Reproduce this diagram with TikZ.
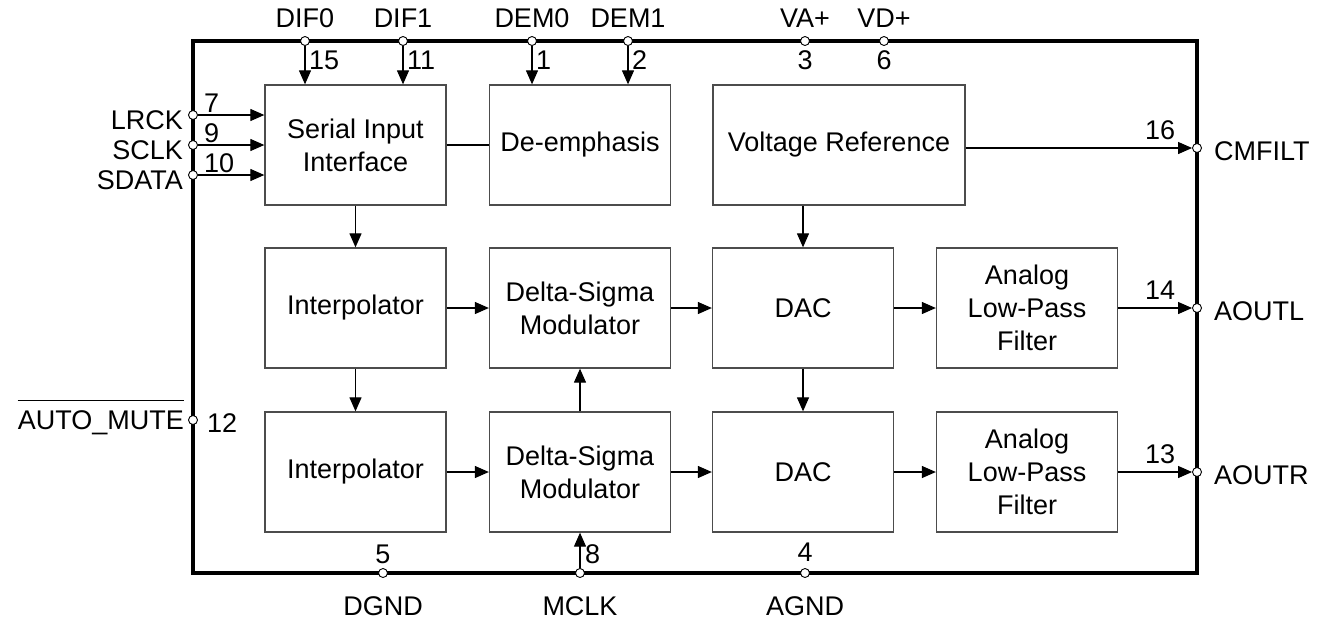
\documentclass[tikz,border=0pt]{standalone}
\usepackage{fontspec}
\setmainfont{Liberation Sans}
\usetikzlibrary{arrows.meta,calc}
\tikzset{
  blk/.style={draw=black!70, line width=1.3pt, minimum width=181pt,
    minimum height=120pt, align=center, inner sep=0pt},
  pin/.style={circle, draw, fill=white, line width=0.9pt, inner sep=0pt,
    minimum size=9pt},
  lbl/.style={inner sep=0pt},
  wire/.style={line width=1.2pt},
  sig/.style={wire, -{Triangle[length=14pt,width=12pt]}},
}
\begin{document}
\begin{tikzpicture}[x=1pt, y=-1pt, font=\fontsize{27}{33}\selectfont] % {{{
\useasboundingbox (0,0) rectangle (1324,619);
% chip outline
\draw[line width=4pt] (193,41) rectangle (1197,573);
% blocks {{{
\node[blk] (sii) at (355.5,145) {Serial Input\\Interface};
\node[blk] (dem) at (580,145) {De-emphasis};
\node[blk, minimum width=252pt] (vref) at (839,145) {Voltage Reference};
\node[blk] (int1) at (355.5,308) {Interpolator};
\node[blk] (dsm1) at (580,308) {Delta-Sigma\\Modulator};
\node[blk] (dac1) at (803,308) {DAC};
\node[blk] (lpf1) at (1027,308) {Analog\\Low-Pass\\Filter};
\node[blk] (int2) at (355.5,472) {Interpolator};
\node[blk] (dsm2) at (580,472) {Delta-Sigma\\Modulator};
\node[blk] (dac2) at (803,472) {DAC};
\node[blk] (lpf2) at (1027,472) {Analog\\Low-Pass\\Filter};
% }}}
% top pins {{{
\foreach \nm/\x/\txt/\num in {dif0/305/DIF0/15, dif1/403/DIF1/11, dem0/532/DEM0/1, dem1/628/DEM1/2} {
  \node[pin] (p\nm) at (\x,41) {};
  \node[lbl] (t\nm) at (\x,18) {\txt};
  \node[lbl, anchor=west] (n\nm) at (\x+4,60) {\num};
}
\foreach \nm/\x/\txt/\num in {va/805/VA+/3, vd/884/VD+/6} {
  \node[pin] (p\nm) at (\x,41) {};
  \node[lbl] (t\nm) at (\x,18) {\txt};
  \node[lbl] (n\nm) at (\x,60) {\num};
}
\draw[sig] (pdif0) -- (pdif0 |- sii.north);
\draw[sig] (pdif1) -- (pdif1 |- sii.north);
\draw[sig] (pdem0) -- (pdem0 |- dem.north);
\draw[sig] (pdem1) -- (pdem1 |- dem.north);
% }}}
% left pins {{{
\foreach \nm/\y/\txt/\num in {lrck/115/LRCK/7, sclk/145/SCLK/9, sdata/175/SDATA/10} {
  \node[pin] (p\nm) at (193,\y) {};
  \node[lbl, anchor=east] (t\nm) at (183,\y+5) {\txt};
  \node[lbl, anchor=south west] (n\nm) at (204,\y-2) {\num};
  \draw[sig] (p\nm) -- (p\nm -| sii.west);
}
\node[pin] (pmute) at (193,420) {};
\node[lbl, anchor=east] (tmute) at (184,423) {AUTO\_MUTE};
\node[lbl, anchor=west] (nmute) at (207,423) {12};
\draw[line width=1pt] ($(tmute.north west)+(0,-10)$) -- ($(tmute.north east)+(0,-10)$);
% }}}
% bottom pins {{{
\foreach \nm/\x/\txt in {dgnd/383/DGND, mclk/580/MCLK, agnd/805/AGND} {
  \node[pin] (p\nm) at (\x,573) {};
  \node[lbl] (t\nm) at (\x,606) {\txt};
}
\node[lbl] (ndgnd) at (383,554) {5};
\node[lbl, anchor=west] (nmclk) at (585,554) {8};
\node[lbl] (nagnd) at (805,552) {4};
\draw[sig] (pmclk) -- (pmclk |- dsm2.south);
% }}}
% right pins {{{
\foreach \nm/\y/\txt/\num in {cmfilt/148/CMFILT/16, aoutl/308/AOUTL/14, aoutr/472/AOUTR/13} {
  \node[pin] (p\nm) at (1197,\y) {};
  \node[lbl, anchor=west] (t\nm) at (1214,\y+3) {\txt};
  \node[lbl, anchor=south] (n\nm) at (1160,\y-8) {\num};
}
\draw[sig] (vref.east |- pcmfilt) -- (pcmfilt);
\draw[sig] (lpf1) -- (paoutl);
\draw[sig] (lpf2) -- (paoutr);
% }}}
% signal path {{{
\draw[wire] (sii) -- (dem);
\draw[sig] (sii) -- (int1);
\draw[sig] (int1) -- (int2);
\draw[sig] (int1) -- (dsm1);
\draw[sig] (dsm1) -- (dac1);
\draw[sig] (dac1) -- (lpf1);
\draw[sig] (int2) -- (dsm2);
\draw[sig] (dsm2) -- (dac2);
\draw[sig] (dac2) -- (lpf2);
\draw[sig] (dsm2) -- (dsm1);
\draw[sig] (dac1.north |- vref.south) -- (dac1.north);
\draw[sig] (dac1) -- (dac2);
% }}}
\end{tikzpicture} % }}}
\end{document}
